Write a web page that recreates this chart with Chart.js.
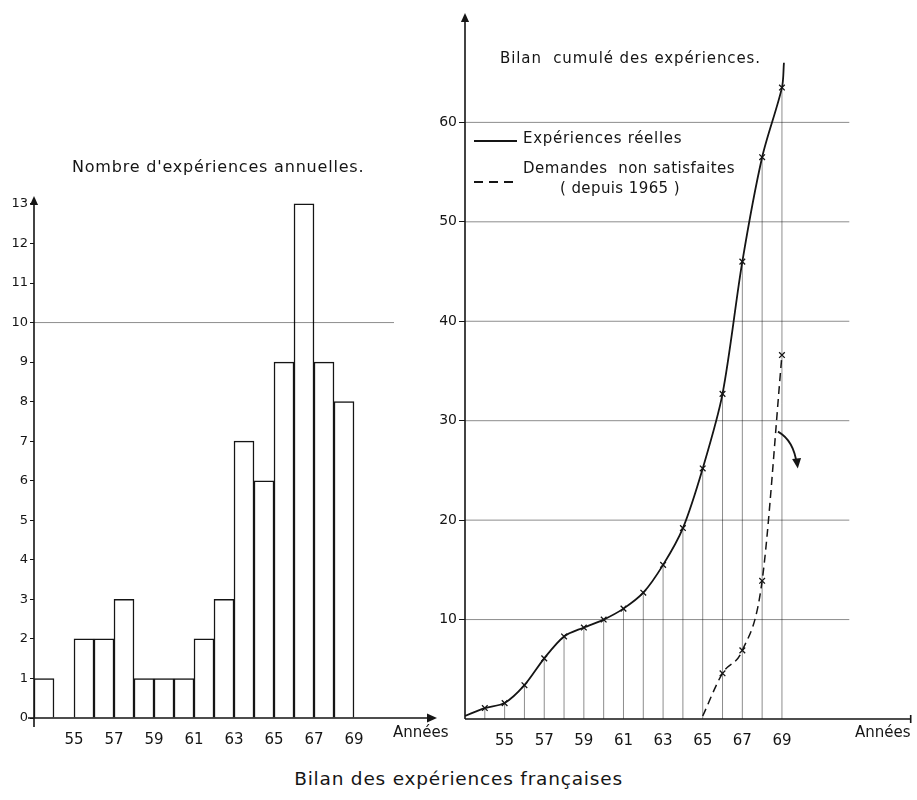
<!DOCTYPE html>
<html>
<head>
<meta charset="utf-8">
<script src="https://cdn.jsdelivr.net/npm/chart.js@4.4.1/dist/chart.umd.min.js"></script>
<style>
  body { margin: 0; background: #fff; }
  #page { position: relative; width: 917px; height: 800px; font-family: "DejaVu Sans", sans-serif; color: #151515; }
  canvas { position: absolute; }
  .txt { position: absolute; white-space: nowrap; line-height: 1; }
  .leg { position: absolute; width: 43px; }
</style>
</head>
<body>
<div id="page">
  <canvas id="chartGauche" width="450" height="600" style="left:0;top:150px;width:450px;height:600px"></canvas>
  <canvas id="chartDroite" width="497" height="752" style="left:420px;top:0;width:497px;height:752px"></canvas>

  <div class="txt" style="left:72px;top:159px;font-size:16px;letter-spacing:0.8px">Nombre d'expériences annuelles.</div>
  <div class="txt" style="left:500px;top:51px;font-size:15px;letter-spacing:0.9px">Bilan&nbsp; cumulé des expériences.</div>

  <div class="leg" style="left:474px;top:140px;height:1.6px;background:#151515"></div>
  <div class="txt" style="left:523px;top:131px;font-size:15px;letter-spacing:0.7px">Expériences réelles</div>
  <div class="leg" style="left:474px;top:181px;height:1.5px;background:repeating-linear-gradient(to right,#151515 0 9px,transparent 9px 15px)"></div>
  <div class="txt" style="left:523px;top:161px;font-size:15px;letter-spacing:0.5px">Demandes&nbsp; non satisfaites</div>
  <div class="txt" style="left:560px;top:181px;font-size:15px;letter-spacing:0.4px">( depuis 1965 )</div>

  <div class="txt" style="left:393px;top:725px;font-size:15px">Années</div>
  <div class="txt" style="left:855px;top:725px;font-size:15px">Années</div>

  <div class="txt" style="left:0;width:917px;text-align:center;top:770px;font-size:18.5px;letter-spacing:0.8px">Bilan des expériences françaises</div>
</div>

<script>
// Donnees

var anneesBarres = [53, 54, 55, 56, 57, 58, 59, 60, 61, 62, 63, 64, 65, 66, 67, 68]
var experiencesAnnuelles = [1, 0, 2, 2, 3, 1, 1, 1, 2, 3, 7, 6, 9, 13, 9, 8]

var anneesCumul = [53, 54, 55, 56, 57, 58, 59, 60, 61, 62, 63, 64, 65, 66, 67, 68, 69, 69.1]
var experiencesCumulees = [0.3, 1.1, 1.6, 3.4, 6.1, 8.3, 9.2, 10.0, 11.1, 12.7, 15.5, 19.2, 25.2, 32.7, 46.0, 56.5, 63.5, 66]

var anneesDemandes = [65, 66, 67, 68, 69]
var demandesNonSatisfaites = [0.3, 4.6, 6.9, 13.9, 36.6]

var ticksAnnees = [55, 57, 59, 61, 63, 65, 67, 69]
var ticksGauche = [0, 1, 2, 3, 4, 5, 6, 7, 8, 9, 10, 11, 12, 13]
var ticksDroite = [10, 20, 30, 40, 50, 60]

var encre = '#151515'
var grille = 'rgba(0,0,0,0.45)'

function points(xs, ys, dx) {
    return xs.map(function (x, i) { return { x: x + (dx || 0), y: ys[i] } })
}

function fixTicks(list) {
    return function (scale) { scale.ticks = list.map(function (v) { return { value: v } }) }
}

function fleche(ctx, x, y, dir, size) {
    // petite pointe pleine
    ctx.save()
    ctx.translate(x, y)
    ctx.rotate(dir)
    ctx.beginPath()
    ctx.moveTo(0, 0)
    ctx.lineTo(-size, -size * 0.45)
    ctx.lineTo(-size, size * 0.45)
    ctx.closePath()
    ctx.fill()
    ctx.restore()
}

// Axes et grille du graphique de gauche
var axesGauche = {
    id: 'axesGauche',
    afterDatasetsDraw: function (chart) {
        var ctx = chart.ctx, a = chart.chartArea
        var sx = chart.scales.x, sy = chart.scales.y
        ctx.save()
        ctx.strokeStyle = grille
        ctx.lineWidth = 1
        ctx.beginPath()
        ctx.moveTo(a.left, sy.getPixelForValue(10))
        ctx.lineTo(sx.getPixelForValue(71), sy.getPixelForValue(10))
        ctx.stroke()

        ctx.strokeStyle = encre
        ctx.fillStyle = encre
        ctx.lineWidth = 1.6
        ctx.beginPath()
        ctx.moveTo(a.left, a.bottom + 9)
        ctx.lineTo(a.left, a.top + 4)
        ctx.moveTo(a.left - 6, a.bottom)
        ctx.lineTo(a.right - 4, a.bottom)
        ctx.stroke()
        fleche(ctx, a.left, a.top - 2, -Math.PI / 2, 9)
        fleche(ctx, a.right, a.bottom, 0, 10)
        ctx.restore()
    }
}

// Axes, grille, traits de rappel et fleche du graphique de droite
var axesDroite = {
    id: 'axesDroite',
    beforeDatasetsDraw: function (chart) {
        var ctx = chart.ctx, a = chart.chartArea
        var sx = chart.scales.x, sy = chart.scales.y
        ctx.save()
        ctx.strokeStyle = grille
        ctx.lineWidth = 1
        ctx.beginPath()
        ticksDroite.forEach(function (v) {
            ctx.moveTo(a.left, sy.getPixelForValue(v))
            ctx.lineTo(sx.getPixelForValue(72.4), sy.getPixelForValue(v))
        })
        ctx.stroke()

        ctx.strokeStyle = 'rgba(0,0,0,0.5)'
        ctx.lineWidth = 0.9
        ctx.beginPath()
        anneesCumul.forEach(function (x, i) {
            if (x < 54 || x > 69) return
            ctx.moveTo(sx.getPixelForValue(x), a.bottom)
            ctx.lineTo(sx.getPixelForValue(x), sy.getPixelForValue(experiencesCumulees[i]))
        })
        ctx.stroke()
        ctx.restore()
    },
    afterDatasetsDraw: function (chart) {
        var ctx = chart.ctx, a = chart.chartArea
        var sx = chart.scales.x, sy = chart.scales.y
        ctx.save()
        ctx.strokeStyle = encre
        ctx.fillStyle = encre
        ctx.lineWidth = 1.6
        ctx.beginPath()
        ctx.moveTo(a.left, a.bottom)
        ctx.lineTo(a.left, a.top + 6)
        ctx.moveTo(a.left, a.bottom)
        ctx.lineTo(a.right - 1, a.bottom)
        ctx.moveTo(a.right - 1, a.bottom - 4)
        ctx.lineTo(a.right - 1, a.bottom + 4)
        ctx.stroke()
        fleche(ctx, a.left, a.top, -Math.PI / 2, 9)

        // fleche courbe pres de 1969
        var p0 = [sx.getPixelForValue(68.8), sy.getPixelForValue(28.9)]
        var pc = [sx.getPixelForValue(69.6), sy.getPixelForValue(28.0)]
        var p1 = [sx.getPixelForValue(69.75), sy.getPixelForValue(25.6)]
        ctx.lineWidth = 1.8
        ctx.beginPath()
        ctx.moveTo(p0[0], p0[1])
        ctx.quadraticCurveTo(pc[0], pc[1], p1[0], p1[1])
        ctx.stroke()
        fleche(ctx, p1[0] + 1, p1[1] + 4, Math.atan2(p1[1] - pc[1], p1[0] - pc[0]), 10)
        ctx.restore()
    }
}

var policeTicks = { family: 'DejaVu Sans', size: 15 }

new Chart(document.getElementById('chartGauche'), {
    type: 'bar',
    data: {
        datasets: [{
            data: points(anneesBarres, experiencesAnnuelles, 0.5),
            backgroundColor: '#ffffff',
            borderColor: encre,
            borderWidth: 1.5,
            barPercentage: 1,
            categoryPercentage: 1
        }]
    },
    options: {
        responsive: false,
        animation: false,
        layout: { padding: { top: 48, right: 13, bottom: 2, left: 0 } },
        plugins: { legend: { display: false }, tooltip: { enabled: false } },
        scales: {
            x: {
                type: 'linear', min: 53, max: 73.15, offset: false,
                afterBuildTicks: fixTicks(ticksAnnees),
                afterFit: function (s) { s.height = 30 },
                grid: { display: false },
                border: { display: false },
                ticks: { color: encre, font: policeTicks, padding: 5, maxRotation: 0 }
            },
            y: {
                min: 0, max: 13.15,
                afterBuildTicks: fixTicks(ticksGauche),
                afterFit: function (s) { s.width = 34 },
                grid: { drawOnChartArea: false, tickLength: 4, color: encre, lineWidth: 1 },
                border: { display: false },
                ticks: { color: encre, font: { family: 'DejaVu Sans', size: 13 }, padding: 2 }
            }
        }
    },
    plugins: [axesGauche]
})

new Chart(document.getElementById('chartDroite'), {
    type: 'line',
    data: {
        datasets: [{
            label: 'Expériences réelles',
            data: points(anneesCumul, experiencesCumulees),
            borderColor: encre,
            borderWidth: 1.8,
            tension: 0.3,
            pointStyle: 'crossRot',
            pointRadius: function (c) { return (c.dataIndex === 0 || c.dataIndex === anneesCumul.length - 1) ? 0 : 4 },
            pointBorderColor: encre,
            pointBorderWidth: 1.3
        }, {
            label: 'Demandes non satisfaites',
            data: points(anneesDemandes, demandesNonSatisfaites),
            borderColor: encre,
            borderWidth: 1.5,
            borderDash: [8, 5],
            cubicInterpolationMode: 'monotone',
            pointStyle: 'crossRot',
            pointRadius: function (c) { return c.dataIndex === 0 ? 0 : 4 },
            pointBorderColor: encre,
            pointBorderWidth: 1.3
        }]
    },
    options: {
        responsive: false,
        animation: false,
        layout: { padding: { top: 13, right: 1, bottom: 3, left: 0 } },
        plugins: { legend: { display: false }, tooltip: { enabled: false } },
        scales: {
            x: {
                type: 'linear', min: 53, max: 75.55,
                afterBuildTicks: fixTicks(ticksAnnees),
                afterFit: function (s) { s.height = 30 },
                grid: { display: false },
                border: { display: false },
                ticks: { color: encre, font: policeTicks, padding: 5, maxRotation: 0 }
            },
            y: {
                min: 0, max: 71,
                afterBuildTicks: fixTicks(ticksDroite),
                afterFit: function (s) { s.width = 45 },
                grid: { drawOnChartArea: false, tickLength: 6, color: encre, lineWidth: 1 },
                border: { display: false },
                ticks: { color: encre, font: { family: 'DejaVu Sans', size: 14 }, padding: 2 }
            }
        }
    },
    plugins: [axesDroite]
})
</script>
</body>
</html>
